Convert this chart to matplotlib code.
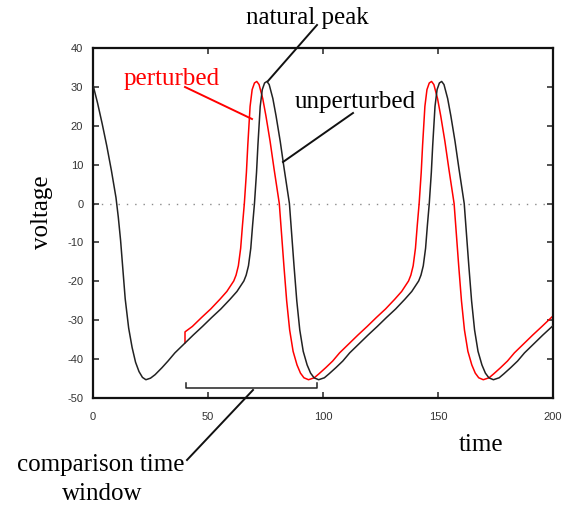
import matplotlib
matplotlib.use("Agg")
import matplotlib.pyplot as plt
from matplotlib.lines import Line2D

plt.rcParams["axes.unicode_minus"] = False

# ---- data ----
black_t = [0, 2, 4, 6, 8, 10, 11, 12, 13, 14, 15.5, 17, 18.5, 20, 21.5, 23,
           25, 27, 30, 32.6, 35.6, 39.6, 43.6, 47.6, 51.6, 55.6, 59.6, 62.6, 65.6,
           66.6, 67.6, 68.6, 69.4, 70.2, 71.1, 71.7, 72.7, 73.6, 74.6, 75.6,
           76.6, 78.2, 79.6, 81.4, 83.1, 85.4, 86.4, 87.4, 88.6, 89.9, 91.4,
           93.1, 94.6, 96.1, 98.1,
           100.6, 102.6, 105.6, 108.6, 111.6, 115.6, 119.6, 123.6, 127.6, 131.6,
           135.6, 138.6, 141.6, 142.6, 143.6, 144.6, 145.4, 146.2, 147.1, 147.7,
           148.7, 149.6, 150.6, 151.6,
           152.6, 154.2, 155.6, 157.4, 159.1, 161.4, 162.4, 163.4, 164.6, 165.9,
           167.4, 169.1, 170.6, 172.1, 174.1,
           176.6, 178.6, 181.6, 184.6, 187.6, 191.6, 195.6, 200]
black_v = [30.5, 25.8, 20.5, 14.8, 8.5, 1.5, -3.5, -9.5, -17, -24.5, -32, -37, -40.8, -43.2, -44.7, -45.3,
           -44.9, -44.0, -42.2, -40.5, -38.4, -36.1, -33.8, -31.6, -29.3, -27.1, -24.6, -22.6, -19.9,
           -18.4, -16, -11.5, -5.5, 0, 8, 15, 25, 29.3, 31, 31.4,
           30.6, 27, 22.5, 16, 9, 0, -8, -16, -25, -32.5, -38,
           -41.5, -43.6, -44.8, -45.3,
           -44.8, -43.8, -42.2, -40.5, -38.4, -36.1, -33.8, -31.6, -29.3, -27.1,
           -24.6, -22.6, -19.9, -18.4, -16, -11.5, -5.5, 0, 8, 15,
           25, 29.3, 31, 31.4,
           30.6, 27, 22.5, 16, 9, 0, -8, -16, -25, -32.5,
           -38, -41.5, -43.6, -44.8, -45.3,
           -44.8, -43.8, -42.2, -40.5, -38.4, -36.1, -33.8, -31.4]

red_t = [40, 40, 43.2, 47.2, 51.2, 55.2, 58.2, 61.2, 62.2, 63.2, 64.2, 65, 65.8,
         66.7, 67.3, 68.3, 69.2, 70.2, 71.2,
         72.2, 73.8, 75.2, 77, 78.7, 81, 82, 83, 84.2, 85.5, 87, 88.7, 90.2, 91.7, 93.7,
         96.2, 98.2, 101.2, 104.2, 107.2, 111.2, 115.2, 119.2, 123.2, 127.2, 131.2,
         134.2, 137.2, 138.2, 139.2, 140.2, 141, 141.8, 142.7, 143.3, 144.3, 145.2,
         146.2, 147.2,
         148.2, 149.8, 151.2, 153, 154.7, 157, 158, 159, 160.2, 161.5, 163, 164.7,
         166.2, 167.7, 169.7,
         172.2, 174.2, 177.2, 180.2, 183.2, 187.2, 191.2, 195.2, 200]
red_v = [-35.8, -33.0, -31.6, -29.3, -27.1, -24.6, -22.6, -19.9, -18.4, -16, -11.5, -5.5, 0,
         8, 15, 25, 29.3, 31, 31.4,
         30.6, 27, 22.5, 16, 9, 0, -8, -16, -25, -32.5, -38, -41.5, -43.6, -44.8, -45.3,
         -44.8, -43.8, -42.2, -40.5, -38.4, -36.1, -33.8, -31.6, -29.3, -27.1, -24.6,
         -22.6, -19.9, -18.4, -16, -11.5, -5.5, 0, 8, 15, 25, 29.3,
         31, 31.4,
         30.6, 27, 22.5, 16, 9, 0, -8, -16, -25, -32.5, -38, -41.5,
         -43.6, -44.8, -45.3,
         -44.8, -43.8, -42.2, -40.5, -38.4, -36.1, -33.8, -31.6, -28.9]

window_start, window_end = 40.5, 97.2
x_ticks = [0, 50, 100, 150, 200]
y_ticks = [-50, -40, -30, -20, -10, 0, 10, 20, 30, 40]

# ---- figure ----
W, H = 563, 508
fig = plt.figure(figsize=(W / 100, H / 100), dpi=100)
ax = fig.add_axes([93 / W, 1 - 398 / H, (553 - 93) / W, (398 - 48) / H])

ax.axhline(0, color="#8a8a8a", lw=1.0, ls=(0, (1, 5)), zorder=1)
ax.plot(red_t, red_v, color="#ff0000", lw=1.1, zorder=2)
ax.plot(black_t, black_v, color="#222222", lw=1.1, zorder=3)

# comparison window bracket
ax.plot([window_start, window_start, window_end, window_end],
        [-46.2, -47.5, -47.5, -46.2], color="#222222", lw=1.1, clip_on=False)

ax.set_xlim(0, 200)
ax.set_ylim(-50, 40)
ax.set_xticks(x_ticks)
ax.set_yticks(y_ticks)
ax.tick_params(direction="in", length=4, width=1.2, top=True, right=True,
               labelsize=8, colors="#333333")
ax.tick_params(axis="x", pad=10)
ax.tick_params(axis="y", pad=7)
for lab in ax.get_xticklabels() + ax.get_yticklabels():
    lab.set_color("#333333")
    lab.set_family(["Liberation Sans", "DejaVu Sans"])
for s in ax.spines.values():
    s.set_linewidth(1.6)
    s.set_color("#111111")

serif = ["Liberation Serif", "DejaVu Serif"]
fs = 18


def fx(x):
    return x / W


def fy(y):
    return 1 - y / H


fig.text(fx(307), fy(18), "natural peak", family=serif, fontsize=fs, ha="center", va="center")
fig.text(fx(124), fy(79), "perturbed", family=serif, fontsize=fs, ha="left", va="center", color="#ff0000")
fig.text(fx(295), fy(102), "unperturbed", family=serif, fontsize=fs, ha="left", va="center")
fig.text(fx(42), fy(212), "voltage", family=serif, fontsize=fs, ha="center", va="center", rotation=90)
fig.text(fx(481), fy(445), "time", family=serif, fontsize=fs, ha="center", va="center")
fig.text(fx(101), fy(465), "comparison time", family=serif, fontsize=fs, ha="center", va="center")
fig.text(fx(102), fy(494), "window", family=serif, fontsize=fs, ha="center", va="center")

for (x0, y0, x1, y1, c) in [(317, 25, 268, 81, "#111111"),
                            (185, 87, 252, 119, "#ff0000"),
                            (353, 113, 283, 162, "#111111"),
                            (253, 390, 187, 460, "#111111")]:
    fig.add_artist(Line2D([fx(x0), fx(x1)], [fy(y0), fy(y1)], color=c, lw=1.4,
                          transform=fig.transFigure))

fig.savefig("out.png", dpi=100)
